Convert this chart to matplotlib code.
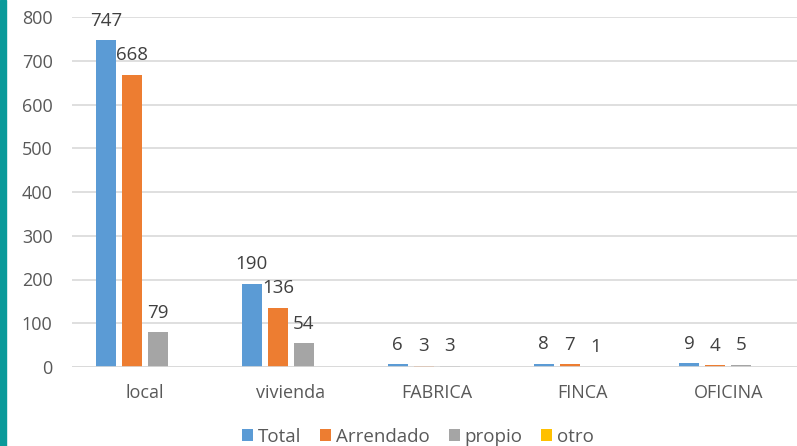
import numpy as np
import matplotlib
matplotlib.use("Agg")
import matplotlib.pyplot as plt
from matplotlib.patches import Rectangle

plt.rcParams['font.family'] = ['Open Sans', 'DejaVu Sans']

categories = ['local', 'vivienda', 'FABRICA', 'FINCA', 'OFICINA']
series_names = ['Total', 'Arrendado', 'propio', 'otro']
total = [747, 190, 6, 8, 9]
arrendado = [668, 136, 3, 7, 4]
propio = [79, 54, 3, 1, 5]
otro = [0, 0, 0, 0, 0]
colors = ['#5B9BD5', '#ED7D31', '#A5A5A5', '#FFC000']

fig = plt.figure(figsize=(7.97, 4.46), dpi=100)
ax = fig.add_axes([72 / 797, 1 - 367 / 446, 1 - 72 / 797, 350 / 446])

# teal strip on the left edge
fig.patches.append(Rectangle((0, 0), 6 / 797, 1, transform=fig.transFigure,
                             color='#0A9A9A', zorder=5))

x = np.arange(len(categories))
pitch = 0.178
width = 0.137
all_series = [total, arrendado, propio, otro]
for i, (name, vals) in enumerate(zip(series_names, all_series)):
    pos = x + (i - 1.5) * pitch
    ax.bar(pos, vals, width, color=colors[i], label=name, zorder=3)
    if name != 'otro':
        for px, v in zip(pos, vals):
            ax.annotate(str(v), (px, v), xytext=(0, 7.5), textcoords='offset points',
                        ha='center', va='bottom', fontsize=13.5, color='#404040')

ax.set_ylim(0, 800)
ax.set_xlim(-0.5, 4.47)
ax.set_yticks(range(0, 801, 100))
ax.set_xticks(x)
ax.set_xticklabels(categories)
ax.grid(axis='y', color='#D9D9D9', linewidth=1.2, zorder=0)
for s in ['top', 'right', 'left', 'bottom']:
    ax.spines[s].set_visible(False)
ax.axhline(0, color='#D9D9D9', linewidth=1.2, zorder=4)
ax.tick_params(axis='both', length=0, labelsize=13, colors='#595959')
ax.tick_params(axis='x', pad=12)
ax.tick_params(axis='y', pad=14)

fig.legend(loc='center', bbox_to_anchor=(418 / 797, 1 - 437 / 446), ncol=4,
           frameon=False, fontsize=13.5, handlelength=0.6, handleheight=0.6,
           handletextpad=0.25, columnspacing=1.0, labelcolor='#595959')

fig.savefig('out.png', dpi=100)
